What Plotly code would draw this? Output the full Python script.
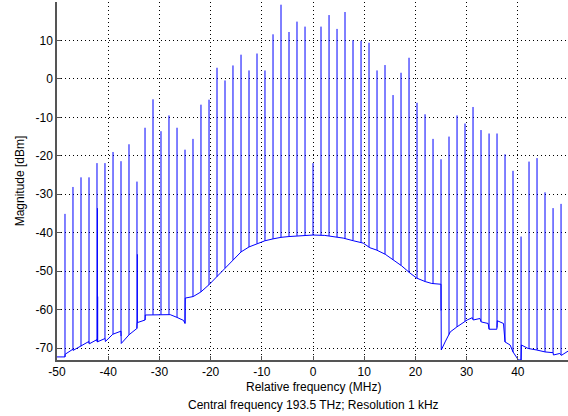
import numpy as np
import plotly.graph_objects as go

# Comb line frequencies (MHz) and their peak levels (dBm)
spike_freq = [-48.44, -46.88, -45.31, -43.75, -42.19, -40.63, -39.06, -37.50, -35.94, -34.38,
              -32.81, -31.25, -29.69, -28.13, -26.56, -25.00, -23.44, -21.88, -20.31, -18.75,
              -17.19, -15.63, -14.06, -12.50, -10.94, -9.38, -7.81, -6.25, -4.69, -3.13,
              -1.56, 0.00, 1.56, 3.13, 4.69, 6.25, 7.81, 9.38, 10.94, 12.50,
              14.06, 15.63, 17.19, 18.75, 20.31, 21.88, 23.44, 25.00, 26.56, 28.13,
              29.69, 31.25, 32.81, 34.38, 35.94, 37.50, 39.06, 40.63, 42.19, 43.75,
              45.31, 46.88, 48.44]
spike_peak = [-35.1, -28.1, -25.6, -25.6, -21.9, -21.9, -19.0, -21.4, -17.0, -26.7,
              -12.7, -5.3, -13.6, -9.5, -12.7, -18.4, -15.6, -6.7, -5.4, 2.9,
              -0.4, 3.5, 6.3, 2.2, 6.6, 2.2, 11.6, 19.3, 12.2, 14.9,
              13.6, -21.9, 13.6, 16.6, 13.0, 17.4, 10.1, 9.9, 9.4, 2.2,
              3.6, -4.2, 1.6, 5.5, -6.2, -9.2, -15.6, -20.9, -15.0, -9.5,
              -11.6, -7.3, -13.3, -14.2, -14.2, -19.6, -23.9, -41.0, -21.5, -20.6,
              -29.5, -33.6, -32.5]

# Weaker neighbouring lines
extra_freq = [-42.10, -42.05, -34.30]
extra_peak = [-33.6, -56.6, -45.6]

# Noise floor (MHz, dBm)
floor_freq = [-50.0, -48.44, -48.40, -46.90, -46.85, -45.30, -43.80, -43.70, -42.20, -42.15,
              -40.60, -40.55, -39.10, -37.50, -37.45, -35.90, -34.40, -34.35, -32.80, -32.75,
              -29.70, -27.90, -26.60, -25.30, -25.00, -24.95, -23.40, -21.90, -20.30, -18.75,
              -17.20, -15.60, -14.06, -12.50, -10.90, -9.40, -7.80, -6.25, -4.70, -3.10,
              -1.56, 0.00, 2.30, 4.00, 5.90, 7.90, 9.80, 11.10, 12.40, 14.10,
              15.70, 17.30, 18.95, 20.25, 21.90, 23.20, 25.00, 25.05, 25.80, 26.80,
              28.10, 29.40, 30.10, 31.10, 31.30, 32.60, 32.85, 34.20, 34.40, 35.90,
              36.00, 37.20, 37.50, 38.50, 39.06, 40.10, 40.63, 40.70, 42.00, 43.70,
              45.30, 46.90, 46.95, 48.20, 48.50, 49.80]
floor_level = [-72.3, -72.3, -71.6, -70.3, -70.6, -69.5, -68.3, -68.9, -67.8, -68.4,
               -67.5, -68.3, -66.4, -65.6, -68.8, -66.5, -64.9, -63.4, -62.7, -61.4,
               -61.3, -61.3, -62.0, -62.8, -63.6, -57.0, -56.6, -55.4, -53.5, -51.4,
               -49.2, -47.0, -45.0, -43.7, -42.8, -42.1, -41.6, -41.2, -41.0, -40.8,
               -40.7, -40.6, -40.7, -41.0, -41.4, -42.1, -42.7, -43.9, -44.5, -45.6,
               -47.1, -48.6, -50.5, -51.8, -52.7, -53.2, -53.4, -70.5, -68.4, -65.8,
               -64.5, -63.2, -62.7, -62.1, -62.7, -62.3, -63.2, -63.6, -65.1, -65.1,
               -62.9, -63.6, -68.4, -69.2, -71.0, -73.1, -73.1, -69.2, -70.1, -70.5,
               -71.0, -71.2, -71.8, -71.4, -71.9, -70.8]

x_ticks = [-50, -40, -30, -20, -10, 0, 10, 20, 30, 40]
y_ticks = [-70, -60, -50, -40, -30, -20, -10, 0, 10]

ff = np.array(floor_freq)
fl = np.array(floor_level)


def base_at(f):
    return min(np.interp(f - 0.02, ff, fl), np.interp(f + 0.02, ff, fl))


sx, sy = [], []
for f, p in list(zip(spike_freq, spike_peak)) + list(zip(extra_freq, extra_peak)):
    sx += [f, f, None]
    sy += [base_at(f), p, None]

fig = go.Figure()
fig.add_trace(go.Scatter(x=floor_freq, y=floor_level, mode="lines",
                         line=dict(color="#0000ff", width=1), hoverinfo="skip"))
fig.add_trace(go.Scatter(x=sx, y=sy, mode="lines",
                         line=dict(color="#0000ff", width=1), hoverinfo="skip"))

font = dict(family="Liberation Sans, Arial, sans-serif", size=12, color="#000000")
grid = dict(showgrid=True, gridcolor="#000000", gridwidth=1, griddash="1px,3px",
            zeroline=False, showline=True, linecolor="#555555", linewidth=1.5,
            ticks="inside", ticklen=4, tickcolor="#555555", tickfont=font)

fig.update_layout(
    width=568, height=416,
    margin=dict(l=57, r=0, t=2, b=56),
    paper_bgcolor="white", plot_bgcolor="white",
    showlegend=False,
    font=font,
    xaxis=dict(range=[-50, 49.8], tickvals=x_ticks,
               ticktext=[str(v) for v in x_ticks], **grid),
    yaxis=dict(range=[-73.1, 20], tickvals=y_ticks,
               ticktext=[str(v) for v in y_ticks],
               title=dict(text="Magnitude [dBm]", font=font, standoff=8), **grid),
    annotations=[
        dict(text="Relative frequency (MHz)", xref="paper", yref="paper",
             x=(313 - 57) / 511, y=-(387 - 360) / 358, showarrow=False,
             xanchor="center", yanchor="middle", font=font),
        dict(text="Central frequency 193.5 THz; Resolution 1 kHz", xref="paper", yref="paper",
             x=(313 - 57) / 511, y=-(405 - 360) / 358, showarrow=False,
             xanchor="center", yanchor="middle", font=font),
    ],
)

fig.write_html("out.html")
